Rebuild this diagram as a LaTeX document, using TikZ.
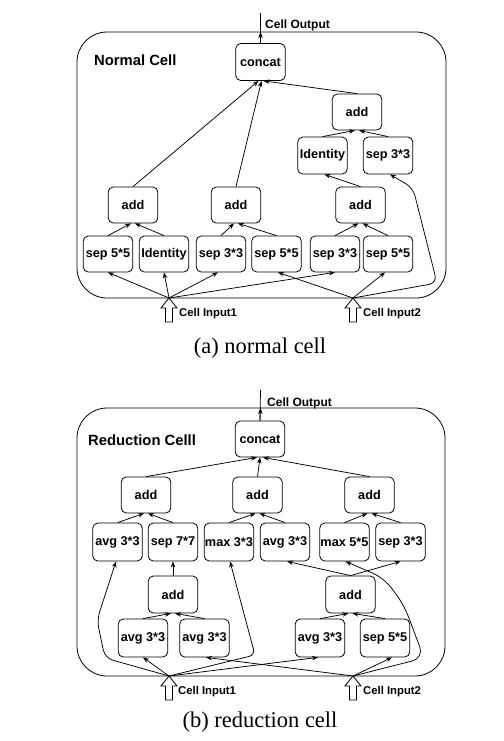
\documentclass[tikz,border=0pt]{standalone}
\usepackage{fontspec}
\setmainfont{Liberation Serif}
\newfontfamily\lsans{Liberation Sans}
\usetikzlibrary{arrows.meta}
\begin{document}
\begin{tikzpicture}[x=1pt,y=-1pt,
  opbox/.style={draw,line width=0.8pt,rounded corners=5pt,minimum width=49.5pt,minimum height=37pt,inner sep=0pt,font=\lsans\bfseries\fontsize{12.7}{14}\selectfont},
  arr/.style={-{Stealth[length=6pt,width=4.5pt]},line width=0.75pt},
  plainln/.style={line width=0.75pt},
  cellbox/.style={draw,line width=0.8pt,rounded corners=30pt},
  celltitle/.style={anchor=west,inner sep=0pt,font=\lsans\bfseries\fontsize{14.8}{17}\selectfont},
  lbl/.style={anchor=west,inner sep=0pt,font=\lsans\bfseries\fontsize{12}{14}\selectfont},
  inlbl/.style={anchor=west,inner sep=0pt,font=\lsans\bfseries\fontsize{11.3}{13}\selectfont},
  captxt/.style={inner sep=0pt,font=\fontsize{22.5}{26}\selectfont},
  hollow/.style={draw,fill=white,line width=0.8pt,line join=miter}
]
\useasboundingbox (0,0) rectangle (503,741);
\fill[white] (0,0) rectangle (503,741);

% ---------------- Normal cell ----------------
\draw[cellbox] (77,32) rectangle (446,298);
\node[celltitle] (ntitle) at (94,60) {Normal Cell};
\node[opbox] (nconcat) at (260.5,62) {concat};
\node[opbox,minimum height=36pt] (naddT) at (357,112) {add};
\node[opbox] (nidT) at (322.5,155.5) {Identity};
\node[opbox] (nsepT) at (388,155.5) {sep 3*3};
\node[opbox,minimum height=36pt] (naddA) at (133,205) {add};
\node[opbox,minimum height=36pt] (naddB) at (236,205) {add};
\node[opbox,minimum height=36pt] (naddC) at (360.5,205) {add};
\node[opbox,minimum height=36pt] (ns1) at (108,254) {sep 5*5};
\node[opbox,minimum height=36pt] (ns2) at (164,254) {Identity};
\node[opbox,minimum height=36pt] (ns3) at (221,254) {sep 3*3};
\node[opbox,minimum height=36pt] (ns4) at (276.5,254) {sep 5*5};
\node[opbox,minimum height=36pt] (ns5) at (335,254) {sep 3*3};
\node[opbox,minimum height=36pt] (ns6) at (388,254) {sep 5*5};

\coordinate (nin1) at (169,298);
\coordinate (nin2) at (353,298);
\coordinate (nout) at (260.5,13);
\coordinate (noutb) at (260.5,32);

\draw[plainln] (nconcat.north) -- (nout);
\draw[arr] (nconcat.north) -- (noutb);
\node[lbl] (nouttxt) at (265,25) {Cell Output};

\draw[arr] (nin1) -- (ns1.south);
\draw[arr] (nin1) -- (ns2.south);
\draw[arr] (nin1) -- ([xshift=-3pt]ns3.south);
\draw[arr] (nin1) -- (ns5.south);
\draw[arr] (nin2) -- ([xshift=1.5pt]ns4.south);
\draw[arr] (nin2) -- ([xshift=-3pt]ns6.south);
\draw[arr,rounded corners=8pt] (nin2) -- (437,283) -- (413,188) -- ([xshift=2pt]nsepT.south);

\draw[arr] (ns1.north) -- ([xshift=-2pt]naddA.south);
\draw[arr] (ns2.north) -- ([xshift=2pt]naddA.south);
\draw[arr] (ns3.north) -- ([xshift=-2pt]naddB.south);
\draw[arr] (ns4.north) -- ([xshift=2pt]naddB.south);
\draw[arr] (ns5.north) -- ([xshift=-2pt]naddC.south);
\draw[arr] (ns6.north) -- ([xshift=2pt]naddC.south);
\draw[arr] (naddC.north) -- ([xshift=2pt]nidT.south);
\draw[arr] (nidT.north) -- ([xshift=-2pt]naddT.south);
\draw[arr] (nsepT.north) -- ([xshift=2pt]naddT.south);
\draw[arr] (naddA.north) -- ([xshift=-2pt]nconcat.south);
\draw[arr] (naddB.north) -- ([xshift=1pt]nconcat.south);
\draw[arr] (naddT.north) -- ([xshift=3pt]nconcat.south);

\draw[hollow] (nin1) -- ++(-8,10) -- ++(4.5,0) -- ++(0,14) -- ++(7,0) -- ++(0,-14) -- ++(4.5,0) -- cycle;
\draw[hollow] (nin2) -- ++(-8,10) -- ++(4.5,0) -- ++(0,14) -- ++(7,0) -- ++(0,-14) -- ++(4.5,0) -- cycle;
\node[inlbl] (nin1txt) at (179,314) {Cell Input1};
\node[inlbl] (nin2txt) at (363,314) {Cell Input2};

\node[captxt] (capa) at (260,348) {(a) normal cell};

% ---------------- Reduction cell ----------------
\draw[cellbox] (77,408) rectangle (445,676);
\node[celltitle] (rtitle) at (88,440) {Reduction Celll};
\node[opbox,minimum height=36pt] (rconcat) at (260,439) {concat};
\node[opbox,minimum height=36pt] (ra1) at (146,495) {add};
\node[opbox,minimum height=36pt] (ra2) at (257.5,495) {add};
\node[opbox,minimum height=36pt] (ra3) at (369.5,495) {add};
\node[opbox,minimum height=38pt] (ro1) at (117.5,542) {avg 3*3};
\node[opbox,minimum height=38pt] (ro2) at (173,542) {sep 7*7};
\node[opbox,minimum height=38pt] (ro3) at (229,542) {max 3*3};
\node[opbox,minimum height=38pt] (ro4) at (285,542) {avg 3*3};
\node[opbox,minimum height=38pt] (ro5) at (344.5,542) {max 5*5};
\node[opbox,minimum height=38pt] (ro6) at (400.5,542) {sep 3*3};
\node[opbox] (rmA) at (173,594.5) {add};
\node[opbox] (rmB) at (350.5,594.5) {add};
\node[opbox,minimum height=38pt] (rb1) at (143,638) {avg 3*3};
\node[opbox,minimum height=38pt] (rb2) at (204.5,638) {avg 3*3};
\node[opbox,minimum height=38pt] (rb3) at (320,638) {avg 3*3};
\node[opbox,minimum height=38pt] (rb4) at (385,638) {sep 5*5};

\coordinate (rin1) at (169,676);
\coordinate (rin2) at (353,676);
\coordinate (rout) at (260.5,390);
\coordinate (routb) at (260.5,408);

\draw[plainln] (rconcat.north) -- (rout);
\draw[arr] (rconcat.north) -- (routb);
\node[lbl] (routtxt) at (267,403) {Cell Output};

\draw[arr] (rin1) -- (rb1.south);
\draw[arr] (rin1) -- ([xshift=-2pt]rb3.south);
\draw[arr,rounded corners=8pt] (rin1) -- (105,658) -- (97,620) -- ([xshift=-1.5pt]ro1.south);
\draw[arr,rounded corners=6pt] (rin1) -- (255,655) -- ([xshift=1pt]ro3.south);
\draw[arr] (rin2) -- ([xshift=1.5pt]rb2.south);
\draw[arr] (rin2) -- ([xshift=7pt]rb4.south);
\draw[arr,rounded corners=12pt] (rin2) -- (424,658) -- (404,605) -- (384,578) -- ([xshift=1pt]ro5.south);

\draw[arr] (rb1.north) -- ([xshift=-2pt]rmA.south);
\draw[arr] (rb2.north) -- ([xshift=2pt]rmA.south);
\draw[arr] (rb3.north) -- ([xshift=-2pt]rmB.south);
\draw[arr] (rb4.north) -- ([xshift=2pt]rmB.south);
\draw[arr] (rmA.north) -- (ro2.south);
\draw[arr] (rmB.north) -- ([xshift=2pt]ro4.south);
\draw[arr] (rmB.north) -- (ro6.south);

\draw[arr] (ro1.north) -- ([xshift=-2pt]ra1.south);
\draw[arr] (ro2.north) -- ([xshift=2pt]ra1.south);
\draw[arr] (ro3.north) -- ([xshift=-2pt]ra2.south);
\draw[arr] (ro4.north) -- ([xshift=2pt]ra2.south);
\draw[arr] (ro5.north) -- ([xshift=-2pt]ra3.south);
\draw[arr] (ro6.north) -- ([xshift=2pt]ra3.south);
\draw[arr] (ra1.north) -- ([xshift=-3pt]rconcat.south);
\draw[arr] (ra2.north) -- (rconcat.south);
\draw[arr] (ra3.north) -- ([xshift=3pt]rconcat.south);

\draw[hollow] (rin1) -- ++(-8,10) -- ++(4.5,0) -- ++(0,14) -- ++(7,0) -- ++(0,-14) -- ++(4.5,0) -- cycle;
\draw[hollow] (rin2) -- ++(-8,10) -- ++(4.5,0) -- ++(0,14) -- ++(7,0) -- ++(0,-14) -- ++(4.5,0) -- cycle;
\node[inlbl] (rin1txt) at (178,692) {Cell Input1};
\node[inlbl] (rin2txt) at (363,692) {Cell Input2};

\node[captxt] (capb) at (260,722) {(b) reduction cell};
\end{tikzpicture}
\end{document}
